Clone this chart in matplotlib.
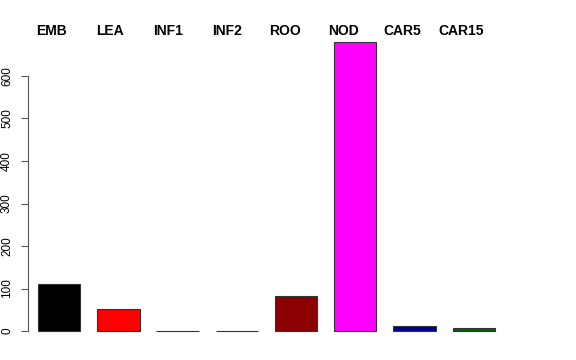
import matplotlib
matplotlib.use('Agg')
import matplotlib.pyplot as plt
import numpy as np

# tissue read counts
tissues = ['EMB', 'LEA', 'INF1', 'INF2', 'ROO', 'NOD', 'CAR5', 'CAR15']
counts = [110, 53, 1, 1, 83, 680, 11, 6]
colors = ['black', 'red', 'darkgreen', 'darkblue', 'darkred', 'magenta', 'darkblue', 'darkgreen']
yticks = [0, 100, 200, 300, 400, 500, 600]

plt.rcParams['font.family'] = ['Liberation Sans', 'DejaVu Sans']

fig = plt.figure(figsize=(5.76, 3.6), dpi=100)
ax = fig.add_axes([28.3 / 576, (360 - 342.6) / 360, (520 - 28.3) / 576, (342.6 - 30.4) / 360])

# barplot layout: width 1, space 0.4
x = 0.9 + 1.4 * np.arange(len(tissues))
ax.bar(x, counts, width=1.0, color=colors, edgecolor='#333333', linewidth=0.8)

ymax = max(counts)
ax.set_xlim(0.17, 0.17 + (520 - 28.3) / 42.3)
ax.set_ylim(-0.04 * ymax, ymax * 1.04)

for s in ['top', 'right', 'bottom']:
    ax.spines[s].set_visible(False)
ax.spines['left'].set_bounds(0, 600)
ax.spines['left'].set_color('#555555')
ax.set_yticks(yticks)
ax.set_yticklabels([str(v) for v in yticks], rotation=90, va='center', fontsize=8.5)
ax.tick_params(axis='y', length=5, color='#555555', pad=6)
ax.set_xticks([])

# names sit a little left of the bar centres, slightly tighter spacing
lx = x[0] - 0.19 + 1.383 * np.arange(len(tissues))
for xi, name in zip(lx, tissues):
    ax.text(xi, ymax * 1.024, name, ha='center', va='baseline',
            fontsize=10, fontweight='bold')

plt.savefig('out.png', dpi=100)
